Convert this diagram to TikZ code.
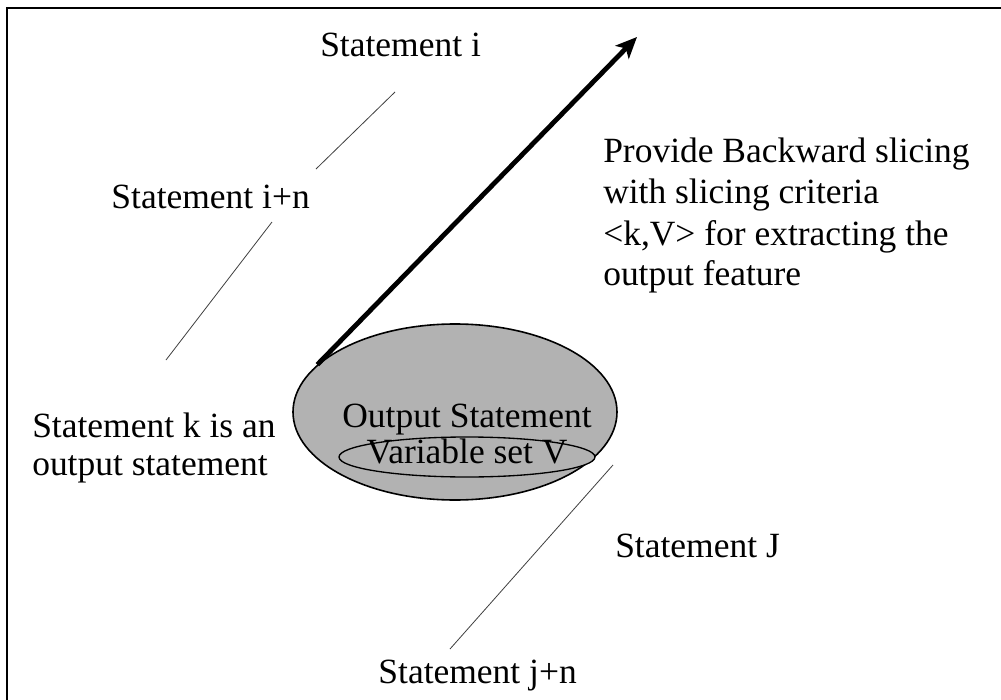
\documentclass[tikz,border=0pt]{standalone}
\usepackage{fontspec}
\setmainfont{Liberation Serif}
\usetikzlibrary{arrows.meta,shapes.geometric}
\begin{document}
\begin{tikzpicture}[x=0.75pt,y=-0.75pt,
  lbl/.style={inner sep=0pt,font=\fontsize{26.6}{30}\selectfont},
  thinline/.style={draw=black!75,line width=0.6pt},
  blob/.style={ellipse,draw=black,line width=1.2pt,fill=black!30,inner sep=0pt}]
\useasboundingbox (0,0) rectangle (1001,700);
\fill[white] (0,0) rectangle (1001,700);
\draw[line width=2.2pt] (7,720) -- (7,8) -- (1020,8);
% ellipses
\node[blob,minimum width=243pt,minimum height=132pt] (outer) at (455,412) {};
\node[blob,line width=1pt,minimum width=192pt,minimum height=30pt] (inner) at (467,457) {};
\node[lbl,anchor=base] (os) at (467,427) {Output Statement};
\node[lbl,anchor=base] (vs) at (467,463) {Variable set V};
% texts
\node[lbl,anchor=base west] (si) at (320,56) {Statement i};
\node[lbl,anchor=base east] (sin) at (310,208) {Statement i+n};
\node[lbl,anchor=base west] (sk1) at (32,437) {Statement k is an};
\node[lbl,anchor=base west] (sk2) at (32,475) {output statement};
\node[lbl,anchor=base west] (p1) at (603,162) {Provide Backward slicing};
\node[lbl,anchor=base west] (p2) at (603,203) {with slicing criteria};
\node[lbl,anchor=base west] (p3) at (603,245) {<k,V> for extracting the};
\node[lbl,anchor=base west] (p4) at (603,285) {output feature};
\node[lbl,anchor=base west] (sj) at (615,557) {Statement J};
\node[lbl,anchor=base east] (sjn) at (577,683) {Statement j+n};
% thin lines
\coordinate (a1) at (395,92); \coordinate (a2) at (316,169);
\coordinate (b1) at (272,222); \coordinate (b2) at (166,360);
\coordinate (c1) at (613,465); \coordinate (c2) at (450,649);
\draw[thinline] (a1) -- (a2);
\draw[thinline] (b1) -- (b2);
\draw[thinline] (c1) -- (c2);
% arrow
\coordinate (tip) at (637,37);
\draw[line width=3.6pt,-{Stealth[length=16pt,width=14pt,inset=4pt]}] (outer.161) -- (tip);
\end{tikzpicture}
\end{document}
